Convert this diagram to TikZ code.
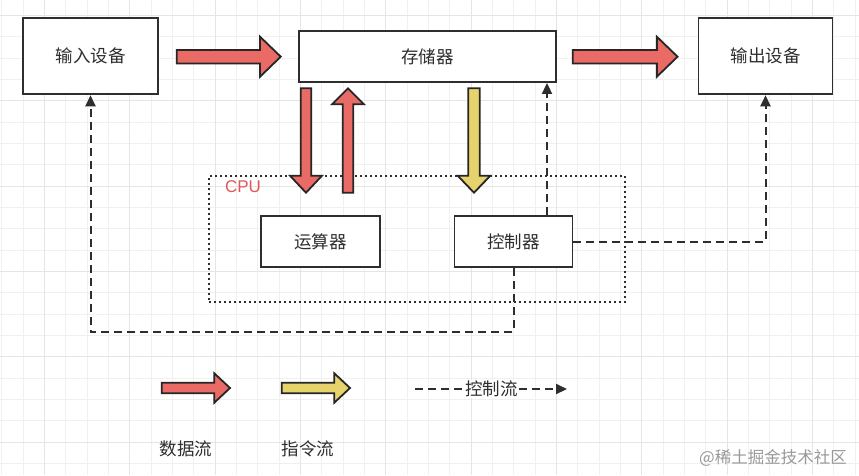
\documentclass[tikz,border=0pt]{standalone}
\usepackage{fontspec}
\setmainfont{Noto Sans CJK SC}
\newfontfamily\latinsans{Liberation Sans}
\usetikzlibrary{calc,arrows.meta}
\definecolor{linegray}{HTML}{2E2E2E}
\definecolor{datared}{HTML}{EA6B66}
\definecolor{instyellow}{HTML}{E6D36C}
\definecolor{cpured}{HTML}{E2575B}
\tikzset{
 unit/.style={draw=linegray, line width=1.9pt, fill=white, text=linegray, font=\fontsize{17.5}{20}\selectfont},
 lbl/.style={text=linegray, font=\fontsize{17.5}{20}\selectfont},
 fatline/.style={draw=black!85, line width=1.8pt, line join=miter},
 ctrlflow/.style={draw=linegray, line width=2pt, dash pattern=on 8pt off 5pt, ->},
 gridminor/.style={draw=black!6, line width=0.8pt},
 gridmajor/.style={draw=black!10, line width=1pt}
}
% fill, from, to, half shaft, half head, head length
\newcommand{\fatarrow}[6]{%
\draw[fatline, fill=#1] let \p1=#2, \p2=#3, \n1={atan2(\y2-\y1,\x2-\x1)}, \n2={veclen(\x2-\x1,\y2-\y1)} in
 {[shift={(\p1)}, rotate=\n1] (0,-#4) -- ({\n2-#6},-#4) -- ({\n2-#6},-#5) -- (\n2,0) -- ({\n2-#6},#5) -- ({\n2-#6},#4) -- (0,#4) -- cycle};}

\begin{document}
\begin{tikzpicture}[x=1pt, y=-1pt, >={Triangle[length=11pt,width=10pt]}]
\useasboundingbox[fill=white] (0,0) rectangle (859,475);
% grid
\foreach \i in {0,...,40} \draw[gridminor] ({1.7+21.333*\i},0) -- ++(0,475);
\foreach \j in {-1,...,22} \draw[gridminor] (0,{15.4+21.333*\j}) -- ++(859,0);
\foreach \i in {0,...,9} \draw[gridmajor] ({44.4+85.333*\i},0) -- ++(0,475);
\foreach \j in {0,...,5} \draw[gridmajor] (0,{15.4+85.333*\j}) -- ++(859,0);

\node (cpu) at (417.3,238.7) [draw=linegray, line width=2pt, dash pattern=on 2pt off 3pt, minimum width=416pt, minimum height=126pt] {};
\node (cpulbl) at (243,186.5) [text=cpured, font=\latinsans\fontsize{17}{20}\selectfont] {CPU};

\node (inp) at (90.5,56.3) [unit, minimum width=135pt, minimum height=76pt] {输入设备};
\node (mem) at (427.5,56.5) [unit, minimum width=257pt, minimum height=51pt] {存储器};
\node (out) at (765.5,56.3) [unit, minimum width=134pt, minimum height=76pt] {输出设备};
\node (alu) at (320.5,241.7) [unit, minimum width=119pt, minimum height=51pt] {运算器};
\node (ctl) at (513.5,241.7) [unit, minimum width=118pt, minimum height=51pt] {控制器};

% data and instruction flow
\fatarrow{datared}{($(inp.east)+(17.7,0.4)$)}{($(mem.west)+(-17.3,0.2)$)}{6.7}{20}{20.7}
\fatarrow{datared}{($(mem.east)+(15.7,0.2)$)}{($(out.west)+(-20,0.4)$)}{6.7}{20}{20.7}
\coordinate (d1) at (306,88.3);
\coordinate (d2) at (306,192.7);
\coordinate (u1) at (348,192.7);
\coordinate (u2) at (348,88.3);
\coordinate (y1) at (474,88.3);
\coordinate (y2) at (474,192.7);
\fatarrow{datared}{(d1)}{(d2)}{5.2}{16}{17}
\fatarrow{datared}{(u1)}{(u2)}{5.2}{16}{16}
\fatarrow{instyellow}{(y1)}{(y2)}{5.8}{16.3}{17}

% control flow
\coordinate (c1) at (547,0);
\coordinate (low) at (90.5,332);
\draw[ctrlflow] (ctl.north -| c1) -- (mem.south -| c1);
\draw[ctrlflow] (ctl.east) -| (out.south);
\draw[ctrlflow] (ctl.south) |- (low) -| (inp.south);

% legend
\coordinate (l1) at (161.7,388);
\coordinate (l2) at (230,388);
\coordinate (l3) at (281.7,388);
\coordinate (l4) at (350,388);
\fatarrow{datared}{(l1)}{(l2)}{5.3}{14.7}{15.7}
\fatarrow{instyellow}{(l3)}{(l4)}{5.3}{14.7}{15.7}
\coordinate (k1) at (415,389);
\coordinate (k2) at (567,389);
\draw[ctrlflow] (k1) -- (k2);
\node (ctllbl) at (491.5,389) [lbl, fill=white, inner sep=1pt] {控制流};
\node (datalbl) at (186,449) [lbl] {数据流};
\node (instlbl) at (308,449) [lbl] {指令流};
\node (mark) at (773,458) [text=black!40, font=\fontsize{16.5}{20}\selectfont] {@稀土掘金技术社区};
\end{tikzpicture}
\end{document}
